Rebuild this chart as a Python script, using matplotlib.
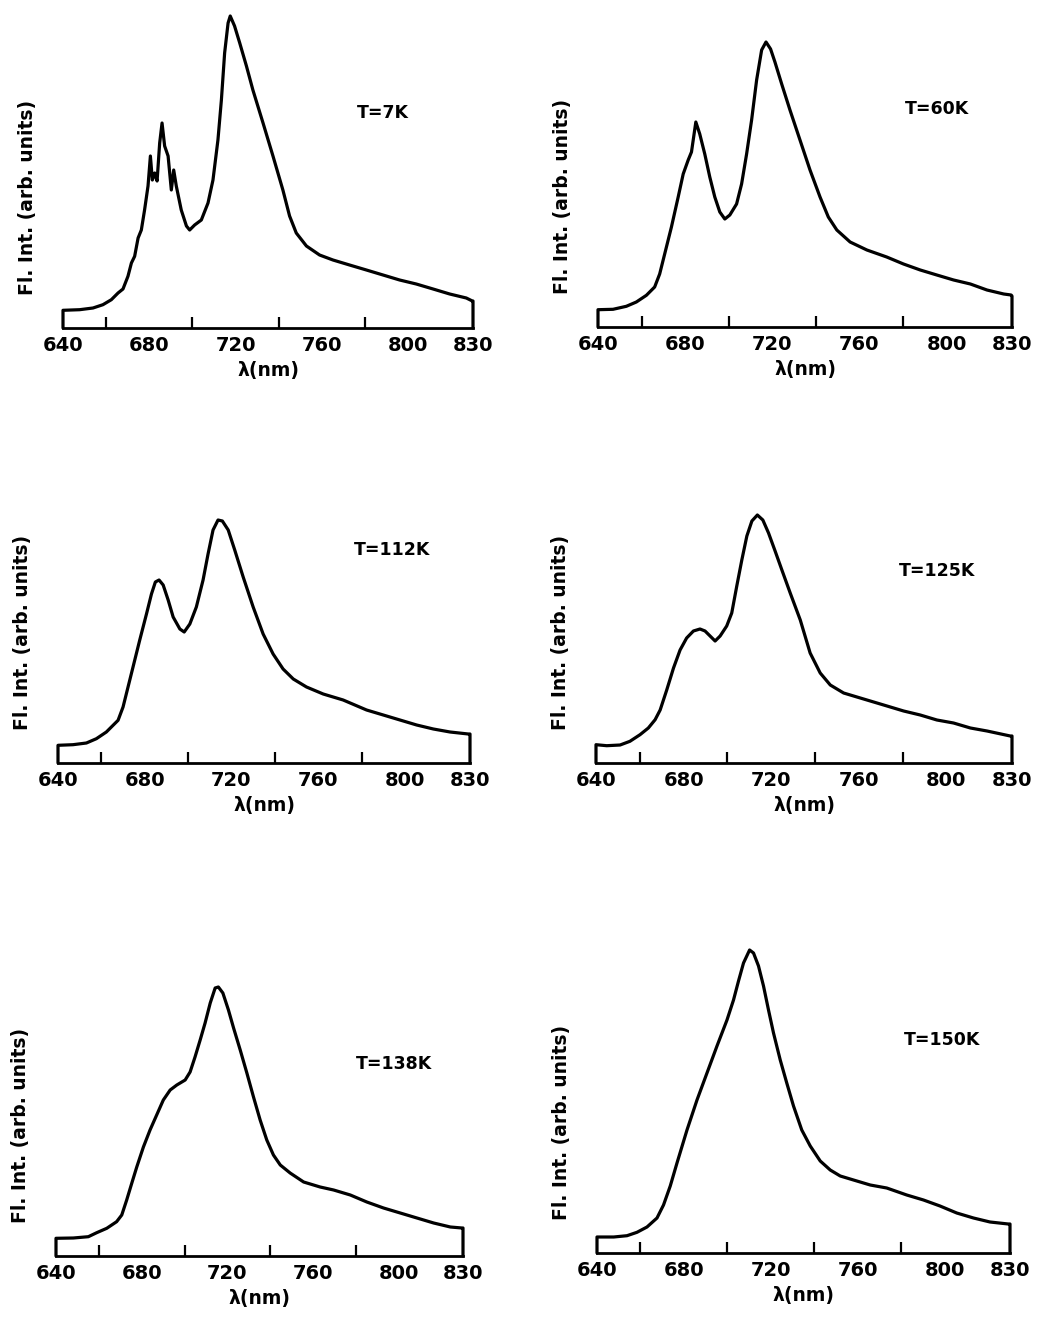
import matplotlib
matplotlib.use("Agg")
import matplotlib.pyplot as plt
import numpy as np

W, H = 1039, 1318
DPI = 100

# ---- data (wavelength nm, intensity arb. units) ----
wl_7K = [640, 647.7, 653.9, 658.5, 662.4, 665.5, 667.8, 670.1, 671.7, 673.2, 674.8, 676.3, 677.8, 679.4,
         680.5, 681.4, 682.5, 683.6, 684.8, 685.9, 687.1, 688.7, 690.2, 691.3, 692.5, 694.8, 697.2, 698.7,
         701, 704.1, 707.2, 709.5, 711.8, 713.4, 714.9, 716.5, 717.5, 719.5, 721.9, 725, 728, 732.7, 737.3,
         741.9, 745, 748.1, 752.8, 758.9, 765.1, 772.8, 780.6, 788.3, 796, 803.7, 811.5, 819.2, 826.9,
         829.7, 830]
int_7K = [17.7, 18.3, 20, 23.3, 28.3, 35, 39, 51.7, 65, 71.7, 90, 98, 118, 142,
          172, 148, 155, 147, 185, 205, 182, 172, 138, 158, 142, 118, 102, 98,
          103, 108, 125, 148, 188, 228, 275, 305, 312, 302, 285, 262, 238, 205, 172,
          138, 112, 95, 82, 73, 68, 63, 58, 53, 48, 44, 39, 34, 30,
          27, 27]

wl_60K = [640, 646.9, 653, 657.6, 662.2, 666, 668.3, 670.6, 673.7, 676.8, 679.1, 681.4, 682.9, 684.9,
          686.7, 689, 691.3, 693.6, 695.9, 698.2, 700.5, 703.6, 705.9, 708.2, 710.5, 712.8, 715.1, 717.1,
          719.2, 721.2, 724.3, 728.1, 732.7, 737.3, 741.9, 745.7, 749.6, 755.7, 763.4, 772.5, 780.2,
          787.9, 795.5, 803.2, 810.9, 818.5, 826.2, 829.6, 830]
int_60K = [17.3, 17.7, 20.7, 25, 31.7, 40, 53, 73, 100, 130, 153, 167, 175, 205,
           193, 173, 150, 130, 115, 108, 112, 123, 143, 173, 207, 247, 277, 285,
           278, 265, 243, 217, 187, 157, 130, 110, 97, 85, 77, 70, 63,
           57, 52, 47, 43, 37, 33, 32, 31]

wl_112K = [640, 646.9, 653.1, 657.7, 662.3, 667.7, 670, 672.3, 674.6, 677.7, 680.8, 683.1, 684.9, 686.6,
           688.5, 690.8, 693.1, 696.2, 698.2, 700.8, 703.8, 706.9, 709.2, 711.5, 713.8, 715.8, 718.5,
           721.5, 725.4, 730, 734.6, 739.2, 743.8, 748.5, 754.6, 762.3, 771.5, 782.3, 790, 797.7, 805.4,
           813.1, 820.8, 829.2, 830]
int_112K = [17.7, 18.3, 20, 24.3, 31, 42.7, 56, 76, 96, 123, 149, 169, 181, 183,
            178, 163, 146, 134, 131, 139, 156, 183, 209, 233, 243, 242, 233,
            213, 186, 156, 129, 109, 94, 84, 76, 69, 63, 53, 48, 43, 38,
            34, 31, 29, 29]

wl_125K = [640, 644.9, 651, 655.5, 660.1, 663.9, 667, 669.3, 672.3, 675.4, 678.4, 681.4, 684.5, 687.5,
           689.8, 692.1, 694.4, 696.7, 699.7, 702, 704.3, 706.6, 708.9, 711.2, 713.7, 716.2, 718.8,
           721.8, 724.9, 728.7, 733.3, 737.8, 742.4, 747, 753.1, 760.7, 772.9, 780.5, 788.1, 795.7,
           803.3, 811, 818.6, 829.2, 830]
int_125K = [18.3, 17.3, 18, 21.7, 28.3, 35, 43.3, 53, 73, 95, 113, 125, 132, 134,
            132, 127, 122, 127, 137, 150, 177, 203, 227, 242, 248, 243, 230,
            212, 193, 170, 143, 110, 90, 78, 70, 65, 57, 52, 48, 43,
            40, 35, 32, 27, 27]

wl_138K = [640, 648.1, 655.1, 659, 663.7, 668.3, 670.7, 673, 675.4, 677.7, 680.8, 683.9, 687, 690.1,
           693.3, 696.4, 700.3, 702.6, 704.9, 707.3, 709.6, 712, 714.3, 715.8, 717.9, 720.5, 722.9,
           726, 729.1, 732.2, 735.3, 738.4, 741.5, 744.7, 749.3, 755.6, 763.3, 769.6, 777.4, 785.1,
           792.9, 800.7, 808.5, 816.3, 824.1, 829.5, 830]
int_138K = [17.7, 18, 19.3, 23.3, 27.7, 34.3, 41, 56, 73, 89, 109, 126, 141, 156,
            166, 171, 176, 184, 199, 216, 233, 253, 268, 269, 263, 246, 228,
            206, 183, 159, 136, 116, 101, 91, 83, 74, 69, 66, 61, 54,
            48, 43, 38, 33, 29, 28, 28]

wl_150K = [640, 647.7, 653.8, 658.4, 663, 667.6, 670.6, 673.7, 676.8, 681.4, 686, 690.6, 695.2, 699.8,
           702.8, 705.1, 707.4, 710.2, 712, 714.3, 716.6, 718.9, 721.2, 724.3, 727.3, 730.4, 734.2,
           738.1, 742.7, 747.3, 751.9, 758, 765.7, 773.3, 782.5, 790.2, 797.8, 805.5, 813.2, 820.8,
           829.2, 830]
int_150K = [16, 16, 17.3, 20.7, 26, 35, 48, 67, 90, 123, 153, 180, 207, 233,
            253, 272, 290, 303, 300, 287, 267, 243, 220, 193, 170, 147, 123,
            107, 92, 83, 77, 73, 68, 65, 58, 53, 47, 40, 35, 31,
            29, 29]

labels = ["T=7K", "T=60K", "T=112K", "T=125K", "T=138K", "T=150K"]
series = [(wl_7K, int_7K), (wl_60K, int_60K), (wl_112K, int_112K),
          (wl_125K, int_125K), (wl_138K, int_138K), (wl_150K, int_150K)]

major_ticks = [640, 680, 720, 760, 800, 830]
minor_ticks = [660, 680, 700, 720, 740, 760, 780, 800]

# ---- layout (pixels): left, right, baseline ----
boxes = [(63, 473, 328), (598, 1012, 327),
         (58, 470, 763), (596, 1012, 763),
         (56, 463, 1256), (597, 1010, 1253)]
label_pos = [(0.78, 0.66), (0.82, 0.67), (0.81, 0.655),
             (0.82, 0.59), (0.83, 0.59), (0.835, 0.655)]
YMAX = 325

fig = plt.figure(figsize=(W / DPI, H / DPI), dpi=DPI)
font = dict(family="DejaVu Sans", weight="bold")

for (l, r, b), (wl, it), lab, (tx, ty) in zip(boxes, series, labels, label_pos):
    ax = fig.add_axes([l / W, 1 - b / H, (r - l) / W, YMAX / H])
    x = np.r_[wl[0], wl, wl[-1]]
    y = np.r_[0, it, 0]
    ax.plot(x, y, color="black", lw=2.3, clip_on=False,
            solid_joinstyle="round", solid_capstyle="round")
    ax.set_xlim(640, 830)
    ax.set_ylim(0, YMAX)
    for s in ["top", "left", "right"]:
        ax.spines[s].set_visible(False)
    ax.spines["bottom"].set_linewidth(2.0)
    ax.set_yticks([])
    ax.set_xticks(major_ticks)
    ax.set_xticklabels([str(t) for t in major_ticks], fontsize=14, **font)
    ax.set_xticks(minor_ticks, minor=True)
    ax.tick_params(axis="x", which="major", length=0, pad=6)
    ax.tick_params(axis="x", which="minor", direction="in", length=8, width=1.6)
    ax.set_xlabel("λ(nm)", fontsize=13.5, labelpad=4, **font)
    ax.set_ylabel("Fl. Int. (arb. units)", fontsize=13.5, **font)
    ax.yaxis.set_label_coords(-26 / (r - l), 131 / YMAX)
    ax.text(tx, ty, lab, transform=ax.transAxes, ha="center", va="center",
            fontsize=12.5, **font)

fig.savefig("out.png", dpi=DPI)
